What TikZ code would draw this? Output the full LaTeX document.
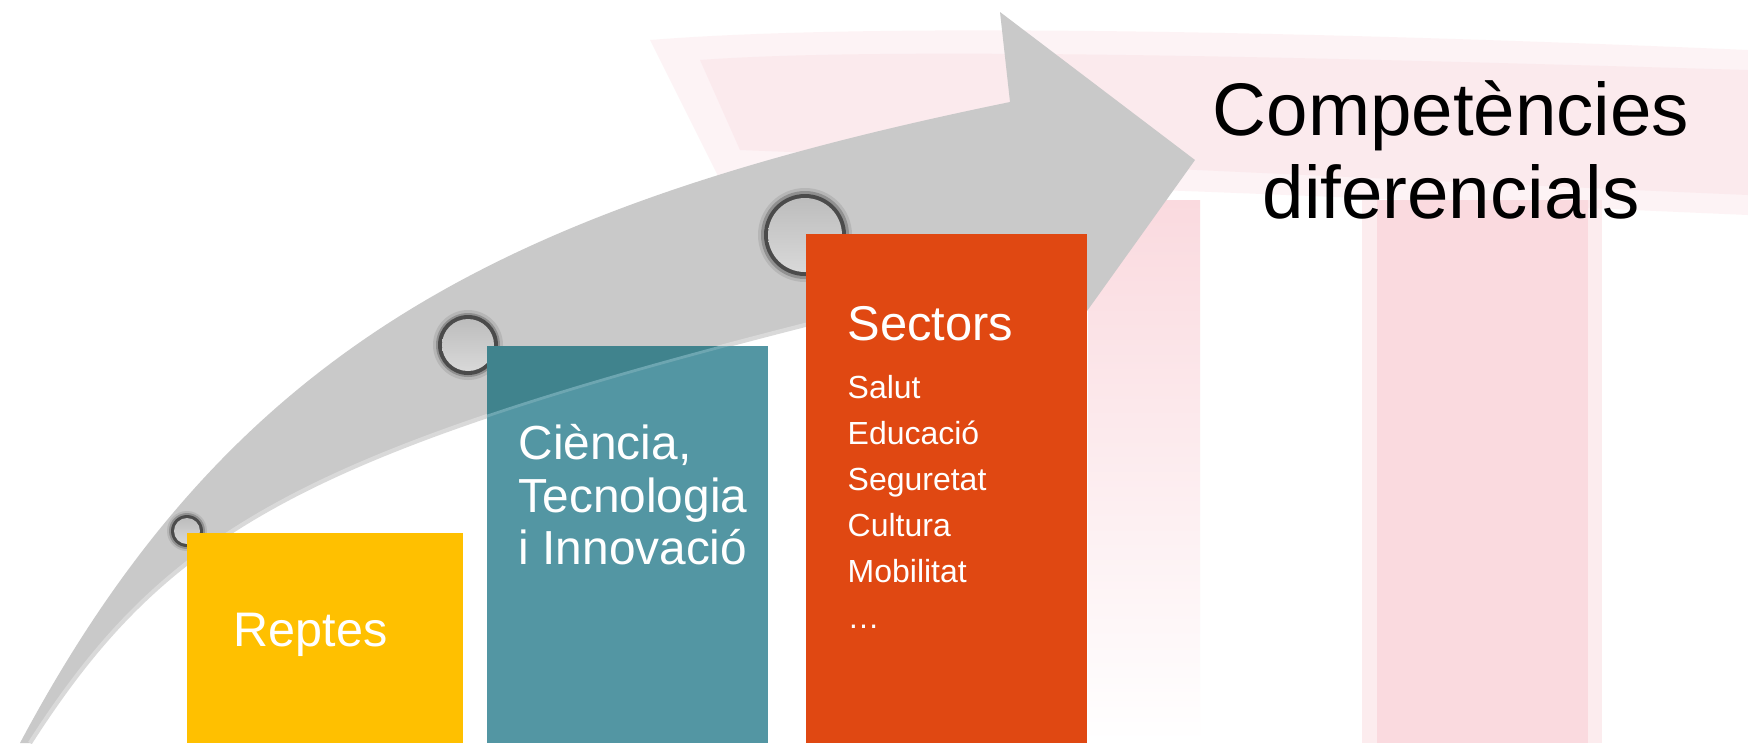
\documentclass[tikz,border=0pt]{standalone}
\usepackage{fontspec}
\setmainfont{Liberation Sans}
\definecolor{bandgray}{RGB}{201,201,201}
\definecolor{bandedge}{RGB}{217,217,217}
\definecolor{reptesyellow}{RGB}{255,192,0}
\definecolor{citeal}{RGB}{83,150,163}
\definecolor{citealdark}{RGB}{64,131,141}
\definecolor{sectorsred}{RGB}{224,72,18}
\definecolor{wmpink}{RGB}{250,218,223}
\definecolor{ringgray}{RGB}{75,75,75}
\begin{document}
\begin{tikzpicture}[x=0.1mm, y=-0.1mm,
		boxtext/.style={anchor=base west, inner sep=0pt, text=white},
		bigtext/.style={anchor=base west, inner sep=0pt, text=white, font=\fontsize{13.6pt}{15.4pt}\selectfont},
		listtext/.style={anchor=base west, inner sep=0pt, text=white, font=\fontsize{9.1pt}{13pt}\selectfont},
		balltop/.style={top color=gray!52, middle color=gray!80, bottom color=gray!30}]
		\fill[white] (0,0) rectangle (1748,743);
		\useasboundingbox (0,0) rectangle (1748,743);

		% marca d'aigua
		\fill[wmpink, opacity=0.3] (650,40) .. controls (900,20) and (1400,35) .. (1748,50) -- (1748,215) .. controls (1400,200) and (1000,180) .. (720,180) -- cycle;
		\fill[wmpink, opacity=0.35] (700,60) .. controls (900,45) and (1400,60) .. (1748,70) -- (1748,195) .. controls (1400,180) and (1000,160) .. (740,150) -- cycle;
		\shade[top color=wmpink, bottom color=white] (1088,200) rectangle (1200,743);
		\fill[wmpink, opacity=0.5] (1362,200) rectangle (1602,743);
		\fill[wmpink] (1377,200) rectangle (1588,743);

		% fletxa
		\path[save path=\bandpath] (20,743) .. controls (230,349) and (502,206) .. (1010,102)
			-- (1000,12) -- (1195,160) -- (1052,360) -- (1038,268)
			.. controls (333,435) and (182,506) .. (30,743) -- cycle;
		\path[save path=\bandinner] (1038,268) .. controls (333,435) and (182,506) .. (30,743);
		\fill[bandgray, use path=\bandpath];
		\draw[bandedge, line width=1.2pt, use path=\bandinner];

		% punts sobre la fletxa
		\fill[ringgray, opacity=0.15] (187,531) circle (20);
		\fill[ringgray, opacity=0.35] (187,531) circle (18);
		\fill[ringgray] (187,531) circle (16);
		\shade[balltop] (187,531) circle (13);

		\fill[ringgray, opacity=0.15] (468,345) circle (35);
		\fill[ringgray, opacity=0.35] (468,345) circle (32);
		\fill[ringgray] (468,345) circle (30);
		\shade[balltop] (468,345) circle (26);

		\fill[ringgray, opacity=0.15] (805,235) circle (47);
		\fill[ringgray, opacity=0.35] (805,235) circle (44);
		\fill[ringgray] (805,235) circle (41);
		\shade[balltop] (805,235) circle (37);

		% caixes
		\fill[reptesyellow] (187,533) rectangle (463,743);
		\fill[citeal] (487,346) rectangle (768,743);
		\begin{scope}
			\clip (487,346) rectangle (768,743);
			\fill[citealdark, use path=\bandpath];
			\draw[citeal!85!white, line width=0.8pt, use path=\bandinner];
		\end{scope}
		\fill[sectorsred] (806,234) rectangle (1087,743);

		% textos
		\node[boxtext, font=\fontsize{13.8pt}{16pt}\selectfont] (reptes) at (233,646) {Reptes};

		\node[bigtext] (ciencia) at (518,459) {Ciència,};
		\node[bigtext] (tecnologia) at (518,512) {Tecnologia};
		\node[bigtext] (innovacio) at (518,564) {i Innovació};

		\node[boxtext, font=\fontsize{13.9pt}{16pt}\selectfont] (sectors) at (847,340) {Sectors};
		\node[listtext] (salut) at (847,398) {Salut};
		\node[listtext] (educacio) at (847,444) {Educació};
		\node[listtext] (seguretat) at (847,490) {Seguretat};
		\node[listtext] (cultura) at (847,536) {Cultura};
		\node[listtext] (mobilitat) at (847,582) {Mobilitat};
		\node[listtext] (altres) at (847,628) {…};

		\node[anchor=base, inner sep=0pt, font=\fontsize{21.2pt}{23.6pt}\selectfont] (competencies) at (1451,135) {Competències};
		\node[anchor=base, inner sep=0pt, font=\fontsize{21.2pt}{23.6pt}\selectfont] (diferencials) at (1451,218) {diferencials};
	\end{tikzpicture}
\end{document}
